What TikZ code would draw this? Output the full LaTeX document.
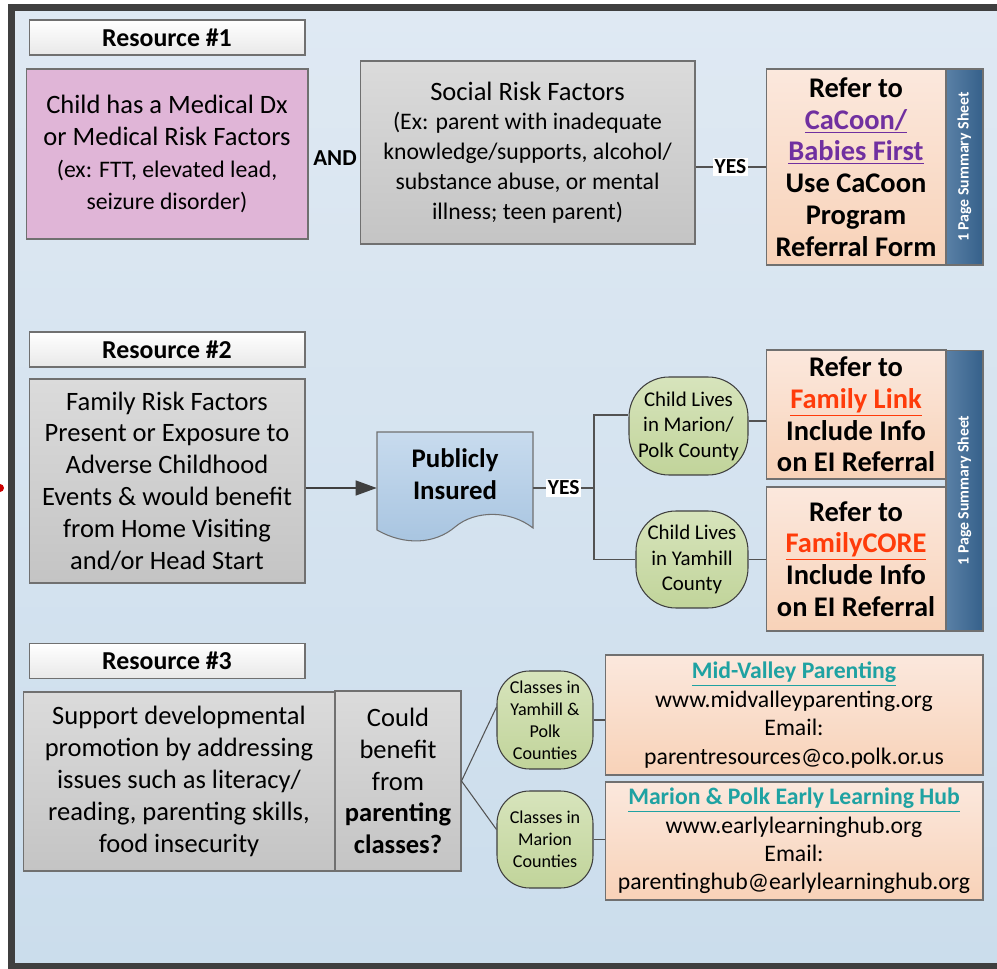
\documentclass[tikz,border=0pt]{standalone}
\usepackage{fontspec}
\setmainfont{Carlito}
\usepackage{xcolor}
\usetikzlibrary{arrows.meta}
\definecolor{fonsa}{HTML}{DFE9F3}
\definecolor{fonsb}{HTML}{CBDDEC}
\definecolor{marc}{HTML}{3F3F3F}
\definecolor{vora}{HTML}{707070}
\definecolor{rosa}{HTML}{E0B5D7}
\definecolor{grisa}{HTML}{DBDBDB}
\definecolor{grisb}{HTML}{C4C4C4}
\definecolor{pressega}{HTML}{FBE8DD}
\definecolor{pressegb}{HTML}{F8D2B8}
\definecolor{blava}{HTML}{3D6A96}
\definecolor{blavab}{HTML}{35608A}
\definecolor{docuA}{HTML}{C8DBEE}
\definecolor{docuB}{HTML}{A7C4E0}
\definecolor{verda}{HTML}{D7E4BC}
\definecolor{verdb}{HTML}{C1D49A}
\definecolor{lila}{HTML}{7030A0}
\definecolor{vermell}{HTML}{FF3B0A}
\definecolor{turques}{HTML}{1FA2A2}
\newcommand{\fgran}{\fontsize{15.1}{18.1}\selectfont}
\newcommand{\fpetit}{\fontsize{13.5}{17}\selectfont}
\newcommand{\fnegre}{\fontsize{16.2}{18.1}\selectfont\bfseries}
\newcommand{\fovals}{\fontsize{11.9}{14.5}\selectfont}
\newcommand{\fclasses}{\fontsize{10.3}{12.6}\selectfont}
\newcommand{\fcontacte}{\fontsize{13.5}{16.2}\selectfont}
\tikzset{
	caixa/.style={draw=vora, line width=0.6pt, inner sep=0pt, align=center, top color=grisa, bottom color=grisb},
	titol/.style={draw=vora, line width=0.6pt, inner sep=0pt, top color=white, bottom color=gray!18, minimum width=5.52cm, minimum height=0.7cm, font=\fontsize{14.7}{17}\selectfont\bfseries},
	referir/.style={draw=vora, line width=0.6pt, inner sep=0pt, align=center, top color=pressega, bottom color=pressegb, font=\fnegre},
	pestanya/.style={draw=vora, line width=0.6pt, left color=blava!85!white, right color=blavab, minimum width=0.74cm},
	ovalverd/.style={draw=marc, line width=0.6pt, inner sep=0pt, align=center, rounded corners=0.8cm, top color=verda, bottom color=verdb},
	linia/.style={draw=marc!90, line width=0.6pt},
	sip/.style={fill=white, inner sep=1pt, font=\fontsize{12.2}{14}\selectfont\bfseries}
}

\begin{document}
\begin{tikzpicture}[x=0.02cm, y=-0.02cm]
	\useasboundingbox (0,0) rectangle (997,969);
	\clip (0,0) rectangle (997,969);
	% fons i marc
	\fill[top color=fonsa, bottom color=fonsb] (11.5,7.5) rectangle (1010,966);
	\draw[marc, line width=0.14cm] (11.5,7.5) rectangle (1010,966);
	\fill[red!80!black] (0,488) circle (0.08cm);

	% Resource #1
	\node[titol] (res1) at (167,37.5) {Resource \#1};
	\node[caixa, fill=rosa, top color=rosa, bottom color=rosa, minimum width=5.64cm, minimum height=3.4cm, font=\fgran] (medic) at (167,154)
		{Child has a Medical Dx\\or Medical Risk Factors\\\fpetit(ex: FTT, elevated lead,\\\fpetit seizure disorder)};
	\node[font=\fontsize{13}{15}\selectfont\bfseries] (and) at (335,158) {AND};
	\node[caixa, minimum width=6.7cm, minimum height=3.66cm, font=\fpetit] (social) at (527.5,152.5)
		{\fgran Social Risk Factors\\\fpetit(Ex: parent with inadequate\\knowledge/supports, alcohol/\\substance abuse, or mental\\illness; teen parent)};
	\node[referir, minimum width=3.6cm, minimum height=3.92cm] (cacoon) at (856,167)
		{Refer to\\{\color{lila}\underline{CaCoon/}}\\{\color{lila}\underline{Babies First}}\\Use CaCoon\\Program\\Referral Form};
	\node[pestanya, minimum height=3.92cm] (fulla1) at (964.5,167) {};
	\node[rotate=90, text=white, font=\fontsize{9}{10}\selectfont\bfseries] at (fulla1) {1 Page Summary Sheet};
	\draw[linia] (social.east |- cacoon.west) -- node[sip] {YES} (cacoon.west);

	% Resource #2
	\node[titol] (res2) at (167,349.5) {Resource \#2};
	\node[caixa, minimum width=5.52cm, minimum height=4.08cm, font=\fgran] (familia) at (167,481)
		{Family Risk Factors\\Present or Exposure to\\Adverse Childhood\\Events \& would benefit\\from Home Visiting\\and/or Head Start};
	% document
	\draw[draw=vora, line width=0.6pt, top color=docuA, bottom color=docuB] (377,432) -- (533,432) -- (533,528)
		.. controls (510,510) and (475,510) .. (455,527) .. controls (435,544) and (405,546) .. (377,530) -- cycle;
	\node[align=center, inner sep=0pt, minimum width=3.12cm, minimum height=1.68cm, font=\fontsize{15.3}{18.1}\selectfont\bfseries] (public) at (455,474)
		{Publicly\\Insured};
	\coordinate (branca) at (594,488);
	\draw[marc, line width=0.8pt, -{Triangle[length=0.42cm, width=0.3cm]}] (familia.east |- branca) -- (public.west |- branca);
	\draw[linia] (public.east |- branca) -- node[sip] {YES} (branca);
	\node[ovalverd, minimum width=2.38cm, minimum height=1.96cm, font=\fovals] (marion) at (688.5,426)
		{Child Lives\\in Marion/\\Polk County};
	\node[ovalverd, minimum width=2.24cm, minimum height=1.94cm, font=\fovals] (yamhill) at (692,559.5)
		{Child Lives\\in Yamhill\\County};
	\coordinate (entrada) at ([yshift=0.22cm]marion.west);
	\coordinate (sortida) at ([yshift=0.1cm]marion.east);
	\draw[linia] (branca) |- (entrada);
	\draw[linia] (branca) |- (yamhill.west);
	\node[referir, minimum width=3.6cm, minimum height=2.58cm] (link) at (856,414.5)
		{Refer to\\{\color{vermell}\underline{Family Link}}\\Include Info\\on EI Referral};
	\node[referir, minimum width=3.6cm, minimum height=2.88cm] (core) at (856,559)
		{Refer to\\{\color{vermell}\underline{FamilyCORE}}\\Include Info\\on EI Referral};
	\node[pestanya, minimum height=5.62cm] (fulla2) at (964.5,490.5) {};
	\node[rotate=90, text=white, font=\fontsize{9}{10}\selectfont\bfseries] at (fulla2) {1 Page Summary Sheet};
	\draw[linia] (sortida) -- (link.west |- sortida);
	\draw[linia] (yamhill.east) -- (core.west |- yamhill.east);

	% Resource #3
	\node[titol] (res3) at (167,661) {Resource \#3};
	\node[caixa, minimum width=6.24cm, minimum height=3.58cm, font=\fgran] (suport) at (179,781.5)
		{Support developmental\\promotion by addressing\\issues such as literacy/\\reading, parenting skills,\\food insecurity};
	\node[caixa, minimum width=2.52cm, minimum height=3.6cm, font=\fgran] (classes) at (398,781)
		{Could\\benefit\\from\\\textbf{parenting}\\\textbf{classes?}};
	\node[ovalverd, rounded corners=0.65cm, minimum width=1.92cm, minimum height=1.96cm, font=\fclasses] (polk) at (545,720)
		{Classes in\\Yamhill \&\\Polk\\Counties};
	\node[ovalverd, rounded corners=0.65cm, minimum width=1.92cm, minimum height=1.94cm, font=\fclasses] (mcomtat) at (545,839.5)
		{Classes in\\Marion\\Counties};
	\draw[linia] (classes.east) -- ([yshift=0.26cm]polk.west);
	\draw[linia] (classes.east) -- ([yshift=0.2cm]mcomtat.west);
	\node[referir, font=\fcontacte, minimum width=7.56cm, minimum height=2.4cm] (midvalley) at (794,715)
		{{\bfseries\color{turques}\underline{Mid-Valley Parenting}}\\www.midvalleyparenting.org\\Email:\\parentresources@co.polk.or.us};
	\node[referir, font=\fcontacte, minimum width=7.56cm, minimum height=2.36cm] (hub) at (794,841)
		{{\bfseries\color{turques}\underline{Marion \& Polk Early Learning Hub}}\\www.earlylearninghub.org\\Email:\\parentinghub@earlylearninghub.org};
	\draw[linia] (polk.east) -- (midvalley.west |- polk.east);
	\draw[linia] (mcomtat.east) -- (hub.west |- mcomtat.east);
\end{tikzpicture}
\end{document}
